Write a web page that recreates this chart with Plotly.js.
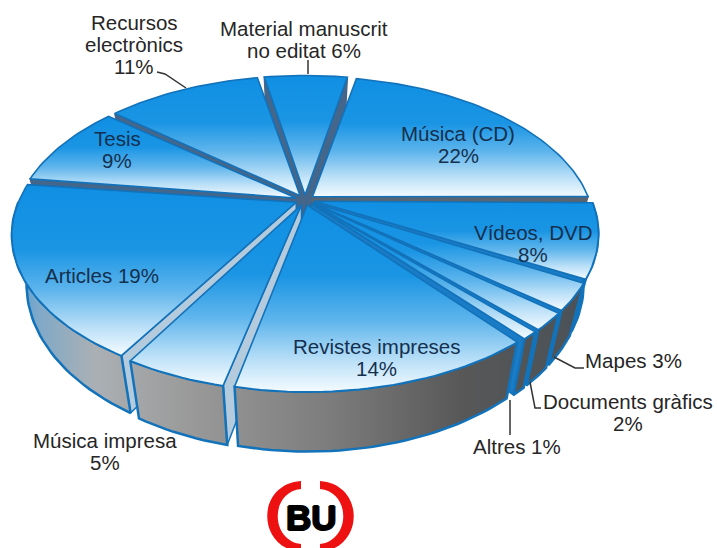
<!DOCTYPE html>
<html><head><meta charset="utf-8">
<script src="https://cdn.plot.ly/plotly-3.0.1.min.js"></script>
<style>html,body{margin:0;padding:0;background:#fff}#c{width:717px;height:548px}</style>
</head><body><div id="c"></div>
<script>
const categories = ['Música (CD)','Vídeos, DVD','Mapes','Documents gràfics','Altres','Revistes impreses','Música impresa','Articles','Tesis','Recursos electrònics','Material manuscrit no editat'];
const values = [22,8,3,2,1,14.4,5,18.6,9,11,6];
const labelTexts = ['Música (CD)<br>22%','Vídeos, DVD<br>8%','Mapes 3%','Documents gràfics<br>2%','Altres 1%','Revistes impreses<br>14%','Música impresa<br>5%','Articles 19%','Tesis<br>9%','Recursos<br>electrònics<br>11%','Material manuscrit<br>no editat 6%'];

// view geometry
const CX=305, CY=200, A=277, B=146, P=0.206, START=11, EXPLODE=0.035, GAP=0.35, DEPTH=47, SHRINK=0.95;
const rad=d=>d*Math.PI/180;
function proj(u,v,low){
  const k=1/(1+P*v);
  let x=CX+A*u*k, y=CY-B*v*k;
  if(low){x=CX+(x-CX)*SHRINK; y=y+DEPTH*k;}
  return [x,y];
}
const total=values.reduce((a,b)=>a+b,0);
let acc=START;
const slices=values.map((val,i)=>{
  const a0=acc+GAP, a1=acc+val/total*360-GAP; acc+=val/total*360;
  const m=rad((a0+a1)/2);
  return {i,a0,a1,dx:EXPLODE*Math.sin(m),dy:EXPLODE*Math.cos(m)};
});
const pt=(s,th,r,low)=>proj(s.dx+r*Math.sin(rad(th)),s.dy+r*Math.cos(rad(th)),low);
function arc(s,low,rev,from,to){
  const a=from===undefined?s.a0:from, b=to===undefined?s.a1:to;
  const n=Math.max(3,Math.ceil((b-a)/1.5)), out=[];
  for(let j=0;j<=n;j++){
    const t=a+(b-a)*(rev?n-j:j)/n;
    out.push(pt(s,t,1,low));
  }
  return out;
}
const EDGE='#1272ba';
const BLUE=[[0,'#108fe3'],[0.38,'#1a95e4'],[0.62,'#5fb5ec'],[0.84,'#bde1f8'],[1,'#f4fbff']];
const RIM=[[0,'#4f9fd6'],[0.04,'#7fa9c8'],[0.14,'#abb0b4'],[0.3,'#9a9a9a'],[0.55,'#7c7c7c'],[0.78,'#575757'],[1,'#4a5258']];
const traces=[];
function poly(pts,opt,name){
  const xs=pts.map(p=>p[0]).concat(pts[0][0]), ys=pts.map(p=>p[1]).concat(pts[0][1]);
  traces.push(Object.assign({type:'scatter',mode:'lines',x:xs,y:ys,fill:'toself',name,hoverinfo:'skip',showlegend:false,
    line:{color:opt.lc||EDGE,width:opt.lw||2}},opt.fill));
}
function wallColor(th){
  const t=((th%360)+360)%360, s=Math.sin(rad(t)), c=Math.cos(rad(t));
  if(c<-0.1 && s<0.3) return '#b4cbdd';      // front-left gaps
  if(c<-0.1) return '#1a7cc6';               // front-right gaps
  if(s>0.5) return '#586674';                // right back gap
  return '#44668a';                          // back gaps
}
slices.slice().sort((a,b)=>b.dy-a.dy).forEach(s=>{
  const name=categories[s.i];
  [[s.a0,-1],[s.a1,1]].forEach(([th,sg])=>{
    const sn=Math.sin(rad(th));
    if(sg*sn>0){
      const c=wallColor(th);
      poly([pt(s,th,0,false),pt(s,th,1,false),pt(s,th,1,true),pt(s,th,0,true)],{lw:1.5,lc:Math.cos(rad(th))<-0.1?EDGE:c,fill:{fillcolor:c}},name+' wall');
    }
  });
  // only the part of the outer side that faces the viewer
  const from=Math.max(s.a0,90), to=Math.min(s.a1,270);
  if(to>from){
    const rim=arc(s,false,false,from,to).concat(arc(s,true,true,from,to));
    poly(rim,{lw:2.5,fill:{fillgradient:{type:'horizontal',colorscale:RIM,start:15,stop:590}}},name+' side');
  }
  const top=[pt(s,0,0,false)].concat(arc(s,false,false));
  const ys=top.map(p=>p[1]);
  poly(top,{lw:1.6,fill:{fillgradient:{type:'vertical',colorscale:BLUE,start:Math.min(...ys),stop:Math.max(...ys)}}},name);
});

const FONT='Liberation Sans, Arial, sans-serif', LINE=22;
const anns=[];
[[458,144,0],[533,243,1],[633,360,2],[628,412,3],[517,446,4],[376,357,5],[105,451,6],[102,275,7],[117,149,8],[134,44,9],[304,39,10]].forEach(([x,y,i])=>{
  const lines=labelTexts[i].split('<br>');
  lines.forEach((text,j)=>anns.push({x,y:y+(j-(lines.length-1)/2)*LINE,text,showarrow:false,xanchor:'center',yanchor:'middle',align:'center',
    font:{family:FONT,size:20.5,color:[0,1,5,7,8].includes(i)?'#14304e':'#262626'}}));
});
anns.push({x:311,y:517,text:'<b>BU</b>',showarrow:false,xanchor:'center',yanchor:'middle',
  font:{family:FONT,size:35,color:'#000',shadow:'1px 0 0 #000, -1px 0 0 #000, 0 1px 0 #000, 0 -1px 0 #000'}});

const leader=d=>({type:'path',path:d,line:{color:'#333',width:1.5},layer:'above'});
const ring=d=>({type:'path',path:d,fillcolor:'#ee1111',line:{width:0},layer:'above'});
const layout={width:717,height:548,margin:{l:0,r:0,t:0,b:0},paper_bgcolor:'#fff',plot_bgcolor:'#fff',showlegend:false,
  xaxis:{range:[0,717],visible:false,fixedrange:true},
  yaxis:{range:[548,0],visible:false,fixedrange:true},
  annotations:anns,
  shapes:[
    leader('M157,72 L165,74 L186,88'),
    leader('M308,60 L308,74'),
    leader('M554,357 L575,368 L584,368'),
    leader('M530,382 L535,408 L541,408'),
    leader('M510,400 L510,435'),
    ring('M301,481 C256,484 256,548 301,552 L301,544 C270,540 270,492 301,489 Z'),
    ring('M320,481 C365,484 365,548 320,552 L320,544 C351,540 351,492 320,489 Z')
  ]};
Plotly.newPlot('c',traces,layout,{staticPlot:true,displayModeBar:false});
</script></body></html>
